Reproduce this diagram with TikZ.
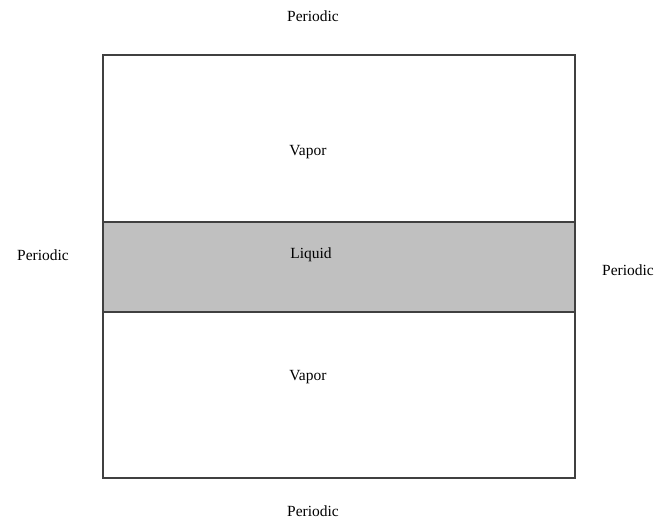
\documentclass[tikz,border=0pt]{standalone}
\usepackage{fontspec}
\setmainfont{Liberation Serif}
\definecolor{liq}{HTML}{C0C0C0}
\definecolor{edge}{HTML}{404040}
\begin{document}
\begin{tikzpicture}[x=1pt,y=-1pt,
  lbl/.style={inner sep=0pt,font=\fontsize{15.5}{18}\selectfont},
  regionline/.style={draw=edge,line width=1.2pt}]
\useasboundingbox (0,0) rectangle (668,522);
\fill[liq] (103,222) rectangle (575,312);
\draw[regionline] (103,55) rectangle (575,478);
\draw[regionline] (103,222) -- (575,222);
\draw[regionline] (103,312) -- (575,312);
\node[lbl] (vtop) at (308,152) {Vapor};
\node[lbl] (liquid) at (311,255) {Liquid};
\node[lbl] (vbot) at (308,377) {Vapor};
\node[lbl] (ptop) at (313,16) {Periodic};
\node[lbl] (pbot) at (313,511) {Periodic};
\node[lbl] (pleft) at (43,255) {Periodic};
\node[lbl] (pright) at (628,270) {Periodic};
\end{tikzpicture}
\end{document}
